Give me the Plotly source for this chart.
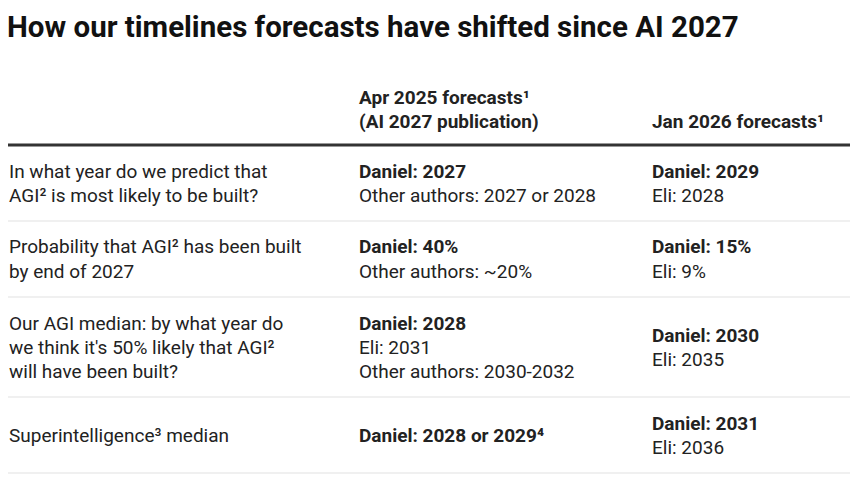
import plotly.graph_objects as go

title = "How our timelines forecasts have shifted since AI 2027"
col_headers = [
    ["Apr 2025 forecasts¹", "(AI 2027 publication)"],
    ["Jan 2026 forecasts¹"],
]
row_labels = [
    ["In what year do we predict that", "AGI² is most likely to be built?"],
    ["Probability that AGI² has been built", "by end of 2027"],
    ["Our AGI median: by what year do", "we think it's 50% likely that AGI²", "will have been built?"],
    ["Superintelligence³ median"],
]
apr_bold = ["Daniel: 2027", "Daniel: 40%", "Daniel: 2028", "Daniel: 2028 or 2029⁴"]
apr_other = [
    ["Other authors: 2027 or 2028"],
    ["Other authors: ~20%"],
    ["Eli: 2031", "Other authors: 2030-2032"],
    [],
]
jan_bold = ["Daniel: 2029", "Daniel: 15%", "Daniel: 2030", "Daniel: 2031"]
jan_other = [["Eli: 2028"], ["Eli: 9%"], ["Eli: 2035"], ["Eli: 2036"]]

W, H = 860, 484
OFF = 8  # page body margin
FONT = "Roboto"
TXT = "#222222"
BODY = 19
col_x = [7, 357, 650]
line_h = 24
pad = 28
header_bottom = 145
left, right = 8, 850


def px(xp):
    return (xp - OFF) / W


def py(yp):
    return 1 - (yp - OFF) / H


def label(xp, yp, text, size=BODY, color=TXT, yanchor="middle"):
    return dict(xref="paper", yref="paper", x=px(xp), y=py(yp), text=text,
                xanchor="left", yanchor=yanchor, showarrow=False,
                font=dict(family=FONT, size=size, color=color))


def hline(yp, color, width):
    return dict(type="line", xref="paper", yref="paper", x0=px(left), x1=px(right),
                y0=py(yp), y1=py(yp), line=dict(color=color, width=width))


fig = go.Figure()
fig.add_trace(go.Scatter(x=[0], y=[0], mode="markers", marker=dict(opacity=0),
                         hoverinfo="skip", showlegend=False))

ann = [label(5, OFF, f"<b>{title}</b>", size=29.5, color="#111111", yanchor="top")]

for ci, hdr in enumerate(col_headers):
    n = len(hdr)
    for li, t in enumerate(hdr):
        y = header_bottom - 24 - (n - 1 - li) * line_h
        ann.append(label(col_x[ci + 1], y, f"<b>{t}</b>"))

shapes = [hline(header_bottom, "#333333", 3)]

top = header_bottom
for r in range(len(row_labels)):
    cells = [
        [(t, False) for t in row_labels[r]],
        [(apr_bold[r], True)] + [(t, False) for t in apr_other[r]],
        [(jan_bold[r], True)] + [(t, False) for t in jan_other[r]],
    ]
    nmax = max(2, max(len(c) for c in cells))
    row_h = nmax * line_h + pad
    center = top + row_h / 2
    for ci, cell in enumerate(cells):
        n = len(cell)
        start = center - (n - 1) * line_h / 2
        for li, (t, bold) in enumerate(cell):
            ann.append(label(col_x[ci], start + li * line_h,
                             f"<b>{t}</b>" if bold else t))
    top += row_h
    shapes.append(hline(top, "#e2e2e2", 1.2))

fig.update_layout(
    width=W, height=H, margin=dict(l=0, r=0, t=0, b=0),
    paper_bgcolor="white", plot_bgcolor="white",
    xaxis=dict(visible=False, fixedrange=True),
    yaxis=dict(visible=False, fixedrange=True),
    annotations=ann, shapes=shapes, showlegend=False,
)
fig.write_html("out.html")
